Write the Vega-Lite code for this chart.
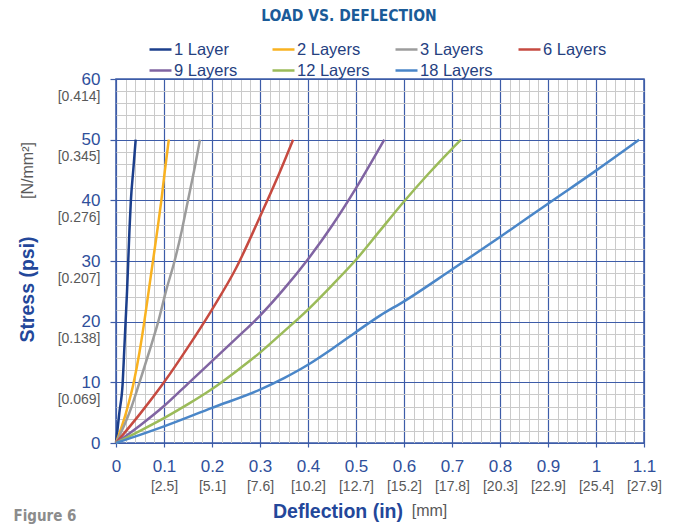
{
  "$schema": "https://vega.github.io/schema/vega-lite/v6.json",
  "width": 528,
  "height": 364,
  "autosize": {"type": "none"},
  "padding": {"left": 116, "top": 79, "right": 37, "bottom": 81},
  "background": "white",
  "title": {
    "text": "LOAD VS. DEFLECTION",
    "font": "Liberation Sans Narrow, DejaVu Sans Condensed, sans-serif",
    "fontSize": 15.5,
    "fontWeight": "bold",
    "color": "#1a5b98",
    "anchor": "middle",
    "frame": "group",
    "dx": -31,
    "dy": -9
  },
  "config": {
    "view": {"stroke": "#3d5ca8", "strokeWidth": 1.5},
    "axis": {"labelFont": "Liberation Sans", "titleFont": "Liberation Sans", "domain": false}
  },
  "data": {
    "values": [
      {"series": "1 Layer", "x": 0, "y": 0},
      {"series": "1 Layer", "x": 0.007, "y": 5},
      {"series": "1 Layer", "x": 0.014, "y": 10},
      {"series": "1 Layer", "x": 0.017, "y": 15},
      {"series": "1 Layer", "x": 0.02, "y": 20},
      {"series": "1 Layer", "x": 0.023, "y": 25},
      {"series": "1 Layer", "x": 0.0255, "y": 30},
      {"series": "1 Layer", "x": 0.028, "y": 35},
      {"series": "1 Layer", "x": 0.031, "y": 40},
      {"series": "1 Layer", "x": 0.036, "y": 45},
      {"series": "1 Layer", "x": 0.041, "y": 50},
      {"series": "2 Layers", "x": 0, "y": 0},
      {"series": "2 Layers", "x": 0.021, "y": 5},
      {"series": "2 Layers", "x": 0.037, "y": 10},
      {"series": "2 Layers", "x": 0.049, "y": 15},
      {"series": "2 Layers", "x": 0.059, "y": 20},
      {"series": "2 Layers", "x": 0.068, "y": 25},
      {"series": "2 Layers", "x": 0.077, "y": 30},
      {"series": "2 Layers", "x": 0.086, "y": 35},
      {"series": "2 Layers", "x": 0.0945, "y": 40},
      {"series": "2 Layers", "x": 0.102, "y": 45},
      {"series": "2 Layers", "x": 0.11, "y": 50},
      {"series": "3 Layers", "x": 0, "y": 0},
      {"series": "3 Layers", "x": 0.028, "y": 5},
      {"series": "3 Layers", "x": 0.049, "y": 10},
      {"series": "3 Layers", "x": 0.069, "y": 15},
      {"series": "3 Layers", "x": 0.088, "y": 20},
      {"series": "3 Layers", "x": 0.104, "y": 25},
      {"series": "3 Layers", "x": 0.122, "y": 30},
      {"series": "3 Layers", "x": 0.137, "y": 35},
      {"series": "3 Layers", "x": 0.15, "y": 40},
      {"series": "3 Layers", "x": 0.163, "y": 45},
      {"series": "3 Layers", "x": 0.175, "y": 50},
      {"series": "6 Layers", "x": 0, "y": 0},
      {"series": "6 Layers", "x": 0.05, "y": 4.8},
      {"series": "6 Layers", "x": 0.1, "y": 10},
      {"series": "6 Layers", "x": 0.15, "y": 15.8},
      {"series": "6 Layers", "x": 0.2, "y": 22},
      {"series": "6 Layers", "x": 0.25, "y": 28.8},
      {"series": "6 Layers", "x": 0.3, "y": 37.3},
      {"series": "6 Layers", "x": 0.335, "y": 43.5},
      {"series": "6 Layers", "x": 0.369, "y": 50},
      {"series": "9 Layers", "x": 0, "y": 0},
      {"series": "9 Layers", "x": 0.05, "y": 2.9},
      {"series": "9 Layers", "x": 0.1, "y": 6.1},
      {"series": "9 Layers", "x": 0.15, "y": 9.8},
      {"series": "9 Layers", "x": 0.2, "y": 13.5},
      {"series": "9 Layers", "x": 0.25, "y": 17.2},
      {"series": "9 Layers", "x": 0.3, "y": 21},
      {"series": "9 Layers", "x": 0.35, "y": 25.4},
      {"series": "9 Layers", "x": 0.4, "y": 30.3},
      {"series": "9 Layers", "x": 0.45, "y": 35.8},
      {"series": "9 Layers", "x": 0.5, "y": 42},
      {"series": "9 Layers", "x": 0.559, "y": 50},
      {"series": "12 Layers", "x": 0, "y": 0},
      {"series": "12 Layers", "x": 0.05, "y": 2},
      {"series": "12 Layers", "x": 0.1, "y": 4.1},
      {"series": "12 Layers", "x": 0.15, "y": 6.4},
      {"series": "12 Layers", "x": 0.2, "y": 8.9},
      {"series": "12 Layers", "x": 0.25, "y": 11.8},
      {"series": "12 Layers", "x": 0.3, "y": 14.9},
      {"series": "12 Layers", "x": 0.35, "y": 18.4},
      {"series": "12 Layers", "x": 0.4, "y": 22},
      {"series": "12 Layers", "x": 0.45, "y": 26},
      {"series": "12 Layers", "x": 0.5, "y": 30.2},
      {"series": "12 Layers", "x": 0.55, "y": 35},
      {"series": "12 Layers", "x": 0.6, "y": 39.8},
      {"series": "12 Layers", "x": 0.65, "y": 44.3},
      {"series": "12 Layers", "x": 0.7, "y": 48.5},
      {"series": "12 Layers", "x": 0.719, "y": 50},
      {"series": "18 Layers", "x": 0, "y": 0},
      {"series": "18 Layers", "x": 0.05, "y": 1.35},
      {"series": "18 Layers", "x": 0.1, "y": 2.75},
      {"series": "18 Layers", "x": 0.2, "y": 5.8},
      {"series": "18 Layers", "x": 0.3, "y": 8.8},
      {"series": "18 Layers", "x": 0.35, "y": 10.7},
      {"series": "18 Layers", "x": 0.4, "y": 12.9},
      {"series": "18 Layers", "x": 0.45, "y": 15.5},
      {"series": "18 Layers", "x": 0.5, "y": 18.3},
      {"series": "18 Layers", "x": 0.55, "y": 21},
      {"series": "18 Layers", "x": 0.6, "y": 23.35},
      {"series": "18 Layers", "x": 0.7, "y": 28.6},
      {"series": "18 Layers", "x": 0.8, "y": 33.95},
      {"series": "18 Layers", "x": 0.9, "y": 39.45},
      {"series": "18 Layers", "x": 1.0, "y": 44.9},
      {"series": "18 Layers", "x": 1.09, "y": 50}
    ]
  },
  "resolve": {"axis": {"x": "independent", "y": "independent"}},
  "layer": [
    {
      "mark": {"type": "point", "opacity": 0},
      "encoding": {
        "x": {"field": "x", "type": "quantitative", "scale": {"domain": [0, 1.1], "nice": false},
          "axis": {"orient": "bottom", "values": [0.02,0.04,0.06,0.08,0.12,0.14,0.16,0.18,0.22,0.24,0.26,0.28,0.32,0.34,0.36,0.38,0.42,0.44,0.46,0.48,0.52,0.54,0.56,0.58,0.62,0.64,0.66,0.68,0.72,0.74,0.76,0.78,0.82,0.84,0.86,0.88,0.92,0.94,0.96,0.98,1.02,1.04,1.06,1.08],
            "grid": true, "gridColor": "#cacaca", "gridWidth": 1, "labels": false, "ticks": false, "domain": false, "title": null}},
        "y": {"field": "y", "type": "quantitative", "scale": {"domain": [0, 60], "nice": false},
          "axis": {"orient": "left", "values": [2,4,6,8,12,14,16,18,22,24,26,28,32,34,36,38,42,44,46,48,52,54,56,58],
            "grid": true, "gridColor": "#cacaca", "gridWidth": 1, "labels": false, "ticks": false, "domain": false, "title": null}}
      }
    },
    {
      "mark": {"type": "point", "opacity": 0},
      "encoding": {
        "x": {"field": "x", "type": "quantitative", "scale": {"domain": [0, 1.1], "nice": false},
          "axis": {"orient": "bottom", "values": [0,0.1,0.2,0.3,0.4,0.5,0.6,0.7,0.8,0.9,1,1.1], "format": "~g",
            "grid": true, "gridColor": "#3d5ca8", "gridWidth": 1.2,
            "ticks": true, "tickSize": 4, "tickColor": "#3d5ca8", "tickWidth": 1.2,
            "labelFontSize": 17, "labelColor": "#2f4f9b", "labelPadding": 19, "labelBaseline": "middle", "labelFlush": false,
            "title": "Deflection (in)", "titleFontSize": 19.5, "titleFontWeight": "bold", "titleColor": "#23479a",
            "titleX": 221.5, "titleY": 68, "titleAlign": "center", "titleBaseline": "middle", "titleAnchor": null}},
        "y": {"field": "y", "type": "quantitative", "scale": {"domain": [0, 60], "nice": false},
          "axis": {"orient": "left", "values": [0,10,20,30,40,50,60],
            "grid": true, "gridColor": "#3d5ca8", "gridWidth": 1.2,
            "ticks": true, "tickSize": 6, "tickColor": "#3d5ca8", "tickWidth": 1.2,
            "labelFontSize": 17, "labelColor": "#2f4f9b", "labelPadding": 10, "labelBaseline": "middle", "labelAlign": "right", "labelFlush": false,
            "title": "Stress (psi)", "titleFontSize": 19.5, "titleFontWeight": "bold", "titleColor": "#23479a",
            "titleX": -89, "titleY": 210, "titleAngle": 270, "titleAlign": "center", "titleBaseline": "middle", "titleAnchor": null}}
      }
    },
    {
      "mark": {"type": "point", "opacity": 0},
      "encoding": {
        "x": {"field": "x", "type": "quantitative", "scale": {"domain": [0, 1.1], "nice": false},
          "axis": {"orient": "bottom", "values": [0.1,0.2,0.3,0.4,0.5,0.6,0.7,0.8,0.9,1,1.1],
            "labelExpr": "'[' + format(datum.value * 25.4, '.1f') + ']'",
            "grid": false, "ticks": false, "tickSize": 0, "domain": false,
            "labelFontSize": 14, "labelColor": "#595959", "labelPadding": 43, "labelBaseline": "middle", "labelFlush": false,
            "title": "[mm]", "titleFontSize": 16, "titleFontWeight": "normal", "titleColor": "#595959",
            "titleX": 313, "titleY": 67, "titleAlign": "center", "titleBaseline": "middle", "titleAnchor": null}},
        "y": {"field": "y", "type": "quantitative", "scale": {"domain": [0, 60], "nice": false},
          "axis": {"orient": "left", "values": [10,20,30,40,50,60],
            "labelExpr": "'[' + format(datum.value * 0.0068948, '.3f') + ']'",
            "grid": false, "ticks": false, "tickSize": 0, "domain": false,
            "labelFontSize": 14, "labelColor": "#595959", "labelPadding": 16, "labelOffset": 17, "labelBaseline": "middle", "labelAlign": "right", "labelFlush": false,
            "title": "[N/mm²]", "titleFontSize": 16, "titleFontWeight": "normal", "titleColor": "#595959",
            "titleX": -89, "titleY": 91, "titleAngle": 270, "titleAlign": "center", "titleBaseline": "middle", "titleAnchor": null}}
      }
    },
    {
      "mark": {"type": "point", "opacity": 0},
      "encoding": {
        "x": {"field": "x", "type": "quantitative", "scale": {"domain": [0, 1.1], "nice": false},
          "axis": {"orient": "bottom", "values": [0], "labels": false, "grid": false, "ticks": false, "tickSize": 0, "domain": false,
            "title": "Figure 6", "titleFont": "Liberation Sans Narrow, DejaVu Sans Condensed, sans-serif", "titleFontSize": 15, "titleFontWeight": "bold", "titleColor": "#8c8c8c",
            "titleX": -103, "titleY": 72, "titleAlign": "left", "titleBaseline": "middle", "titleAnchor": null}},
        "y": {"field": "y", "type": "quantitative", "scale": {"domain": [0, 60], "nice": false}, "axis": null}
      }
    },
    {
      "mark": {"type": "line", "strokeWidth": 2.5, "interpolate": "monotone"},
      "encoding": {
        "x": {"field": "x", "type": "quantitative", "scale": {"domain": [0, 1.1], "nice": false}, "axis": null},
        "y": {"field": "y", "type": "quantitative", "scale": {"domain": [0, 60], "nice": false}, "axis": null},
        "color": {
          "field": "series", "type": "nominal",
          "scale": {
            "domain": ["1 Layer", "2 Layers", "3 Layers", "6 Layers", "9 Layers", "12 Layers", "18 Layers"],
            "range": ["#1c3f8c", "#f9b220", "#9c9c9c", "#c64a40", "#8064a2", "#9bbb59", "#4a86c8"]
          },
          "legend": {
            "orient": "none", "legendX": 32, "legendY": -42, "direction": "horizontal", "columns": 4,
            "title": null, "padding": 0, "symbolType": "stroke", "symbolSize": 484, "symbolStrokeWidth": 2.5,
            "labelFont": "Liberation Sans", "labelFontSize": 16.5, "labelColor": "#25407f", "labelOffset": 1,
            "columnPadding": 20, "rowPadding": -4, "gridAlign": "all", "labelLimit": 200
          }
        }
      }
    }
  ]
}
